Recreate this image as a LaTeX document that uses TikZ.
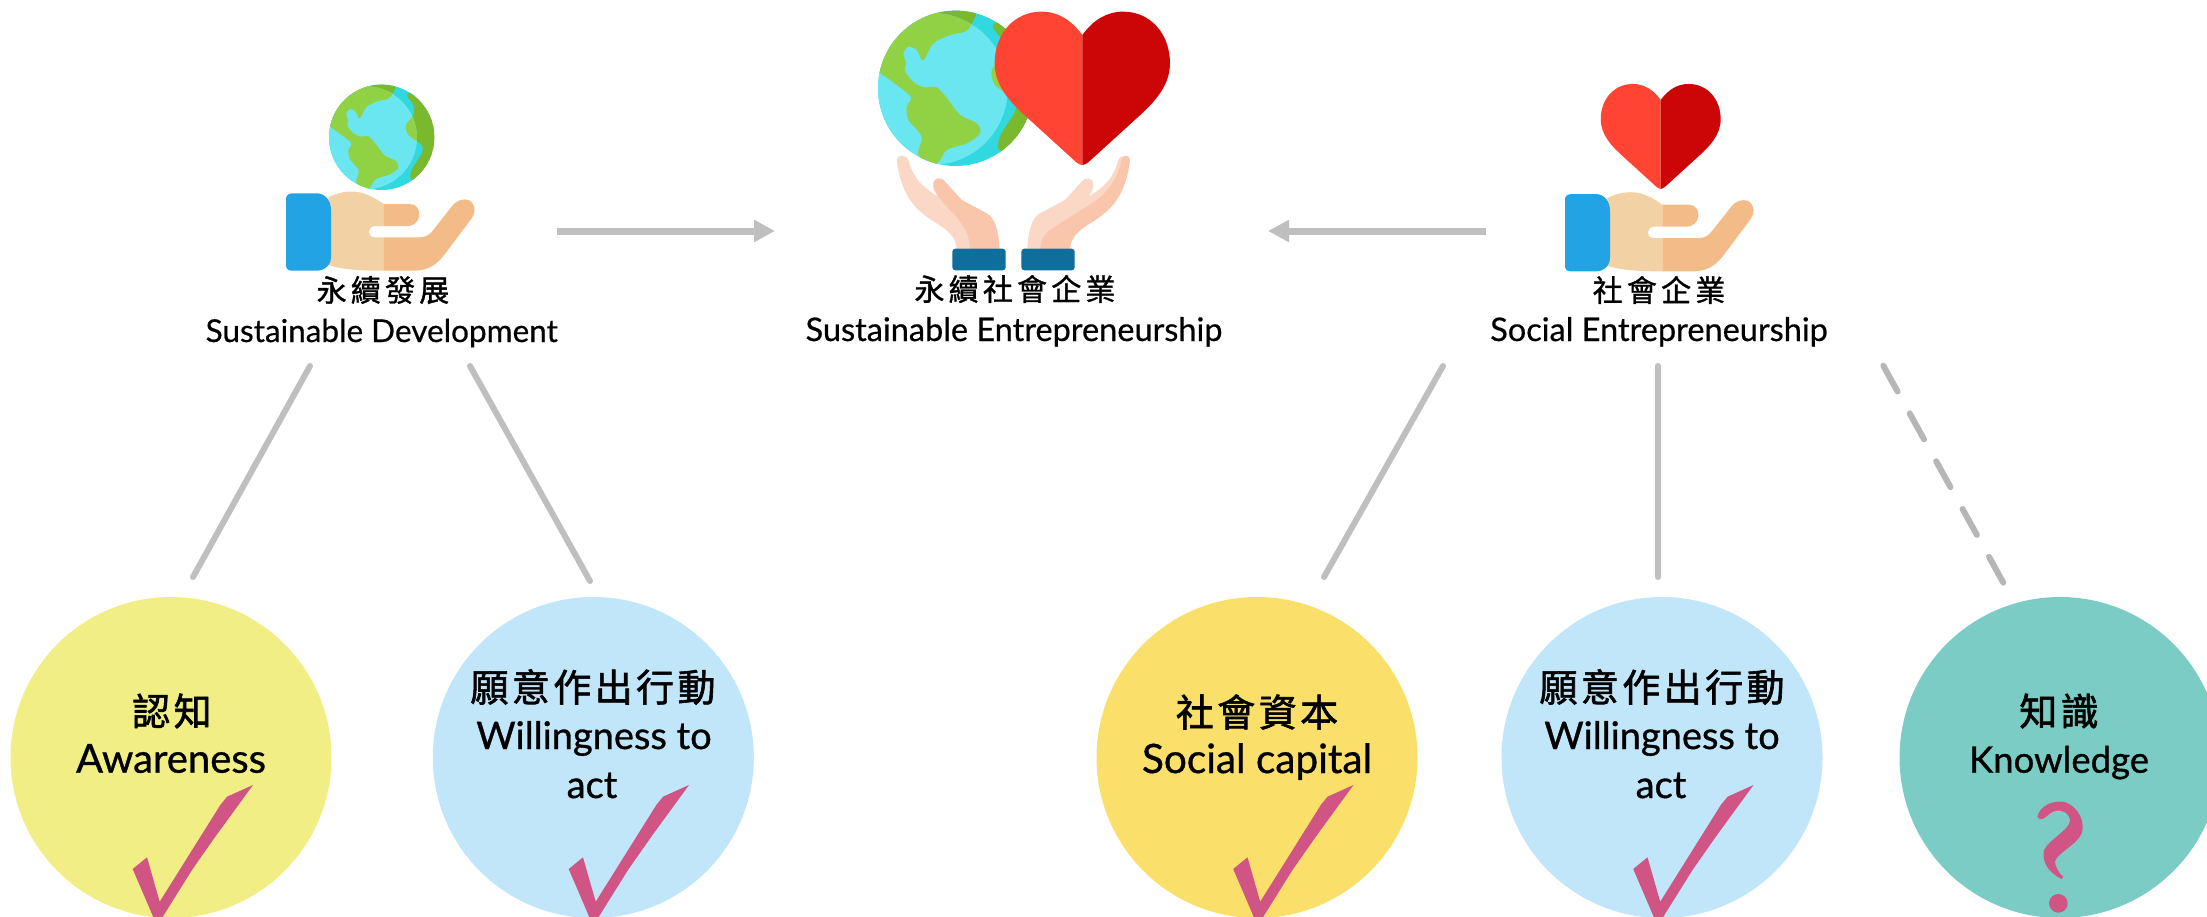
\documentclass[tikz,border=0pt]{standalone}
\usepackage{fontspec}
\usetikzlibrary{arrows.meta}
\setmainfont{Lato}
\newfontfamily\lathead[FakeBold=0.5]{Lato}
\newfontfamily\latcirc[FakeBold=0.8]{Lato}
\newfontfamily\cjkhead[LetterSpace=14,FakeBold=1.2]{Noto Sans CJK TC}
\newfontfamily\cjkcirc[LetterSpace=9,FakeBold=1.6]{Noto Sans CJK TC}
\definecolor{gline}{HTML}{BFBFBF}
\definecolor{gdash}{HTML}{B6B6B8}
\definecolor{pinkmark}{HTML}{D05584}
\definecolor{cyanL}{HTML}{69E6EF}
\definecolor{cyanD}{HTML}{32D8E0}
\definecolor{greenL}{HTML}{91D144}
\definecolor{greenD}{HTML}{7AB82E}
\definecolor{heartL}{HTML}{FF4433}
\definecolor{heartD}{HTML}{CC0606}
\definecolor{handL}{HTML}{F2D1A5}
\definecolor{handD}{HTML}{F2BB88}
\definecolor{cuffB}{HTML}{21A3E4}
\definecolor{palmL}{HTML}{FBD7C5}
\definecolor{palmD}{HTML}{F9C6AB}
\definecolor{cuffD}{HTML}{0F6E9C}
\definecolor{cYellow}{HTML}{F1EE85}
\definecolor{cBlue}{HTML}{C1E5F9}
\definecolor{cGold}{HTML}{FBDF6B}
\definecolor{cTeal}{HTML}{7BCCC5}
\tikzset{
  bigcircle/.style={circle,minimum size=321pt,inner sep=0pt,outer sep=0pt,draw=none},
  headcjk/.style={inner sep=0pt,text=black,font=\cjkhead\fontsize{30}{34}\selectfont},
  headlat/.style={inner sep=0pt,anchor=base,text=black,font=\lathead\fontsize{#1}{36}\selectfont},
  circjk/.style={inner sep=0pt,text=black,font=\cjkcirc\fontsize{38}{42}\selectfont},
  cirlat/.style={inner sep=0pt,anchor=base,text=black,font=\latcirc\fontsize{#1}{44}\selectfont},
  conn/.style={draw=gline,line width=6pt,line cap=round},
  arrowconn/.style={draw=gline,line width=7pt,-{Triangle[length=21pt,width=21pt]}},
}
% globe, in coordinates where its centre is (497,265) and radius 233
\newcommand\westland{plot[smooth cycle,tension=.5] coordinates {(262,205) (250,100) (400,10) (550,30) (545,70) (525,95) (480,105) (430,130) (405,175) (395,180) (380,150) (355,140) (340,160) (348,190) (345,215) (375,250) (405,262) (440,262) (475,300) (510,345) (560,370) (570,400) (530,430) (470,450) (440,490) (385,465) (395,410) (355,360) (350,320) (362,290) (300,240)}}
\newcommand\eastland{plot[smooth cycle,tension=.5] coordinates {(615,70) (637,122) (637,166) (605,210) (615,255) (674,299) (674,336) (630,410) (637,454) (800,454) (800,70)}}
\newcommand\globeicon[3]{%
  \begin{scope}[shift={(#1,#2)},scale=#3,shift={(-497,-265)}]
    \begin{scope}
      \clip (497,265) circle (233);
      \fill[cyanD] (497,265) circle (233);
      \fill[greenD] \eastland;
      \fill[greenD] \westland;
      \clip (425,267) circle (228);
      \fill[cyanL] (260,0) rectangle (760,520);
      \fill[greenL] \eastland;
      \fill[greenL] \westland;
    \end{scope}
  \end{scope}}
% heart, in coordinates where its axis is x=877
\newcommand\hearthalf[1]{(877,105) .. controls (#1*33+877,60) and (#1*73+877,35) .. (#1*123+877,35) .. controls (#1*203+877,35) and (#1*263+877,100) .. (#1*263+877,190) .. controls (#1*263+877,260) and (#1*213+877,310) .. (#1*163+877,355) -- (#1*18+877,487) .. controls (#1*8+877,495) and (877,495) .. (877,495) -- cycle}
\newcommand\hearticon[3]{%
  \begin{scope}[shift={(#1,#2)},scale=#3,shift={(-877,-265)}]
    \fill[heartL] \hearthalf{-1};
    \fill[heartD] \hearthalf{1};
  \end{scope}}
% open hand holding something
\newcommand\handicon[2]{%
  \begin{scope}[shift={(#1,#2)},scale=1/3]
    \fill[handL] (235,442) .. controls (300,410) and (350,425) .. (400,462) -- (400,528) -- (375,528) .. controls (350,530) and (350,562) .. (375,562) -- (400,562) -- (400,662) .. controls (340,662) and (280,660) .. (235,645) -- cycle;
    \fill[handD] (400,462) -- (480,462) .. controls (500,462) and (510,480) .. (508,497) .. controls (506,515) and (490,528) .. (475,528) -- (400,528) -- cycle;
    \fill[handD] (400,562) -- (510,562) .. controls (530,562) and (540,552) .. (550,540) -- (605,470) .. controls (620,450) and (640,445) .. (655,450) .. controls (675,460) and (680,480) .. (665,505) -- (590,605) .. controls (565,640) and (540,662) .. (490,662) -- (400,662) -- cycle;
    \fill[cuffB] (128,430) -- (200,430) .. controls (228,430) and (243,455) .. (243,480) -- (243,620) .. controls (243,645) and (225,662) .. (200,662) -- (125,662) .. controls (113,662) and (108,655) .. (108,645) -- (108,447) .. controls (108,437) and (115,430) .. (128,430) -- cycle;
  \end{scope}}
% tick with its tip at the given point
\newcommand\tickmark[2]{%
  \begin{scope}[shift={(#1,#2)}]
    \fill[pinkmark] (0,0) -- (-26,11.7) -- (-32.7,20) -- (-93.3,116.7) -- (-106,72.3) -- (-120.3,84) -- (-112.7,101.7) -- (-99.3,133) -- (-91,133) -- (-61,85) -- (-37.7,51.7) -- cycle;
  \end{scope}}
\begin{document}
\begin{tikzpicture}[x=1pt,y=-1pt]
\useasboundingbox (0,0) rectangle (2207,916);
\clip (0,0) rectangle (2207,916);
\fill[white] (0,0) rectangle (2207,916);

% icons
\globeicon{381.7}{137.3}{.2262}
\handicon{250}{50}
\globeicon{955.7}{88.3}{.3333}
\hearticon{1082.3}{88.3}{.3333}
\begin{scope}[shift={(790,0)},scale=1/3]
  \fill[palmL] (320,480) .. controls (322,462) and (350,462) .. (356,482) .. controls (365,520) and (385,555) .. (445,590) .. controls (435,575) and (428,565) .. (430,552) .. controls (432,532) and (455,530) .. (465,545) -- (515,600) -- (590,640) .. controls (615,655) and (625,690) .. (628,746) -- (500,746) .. controls (498,715) and (480,695) .. (440,670) .. controls (375,630) and (335,590) .. (320,480) -- cycle;
  \fill[palmD] (430,552) .. controls (432,532) and (455,530) .. (465,545) -- (515,600) -- (590,640) .. controls (615,655) and (625,690) .. (628,746) -- (540,746) .. controls (540,690) and (500,650) .. (465,615) .. controls (445,590) and (430,575) .. (430,552) -- cycle;
  \fill[palmL] (1020,480) .. controls (1018,462) and (990,462) .. (984,482) .. controls (975,520) and (955,555) .. (895,590) .. controls (905,575) and (912,565) .. (910,552) .. controls (908,532) and (885,530) .. (875,545) -- (825,600) -- (750,640) .. controls (725,655) and (715,690) .. (712,746) -- (840,746) .. controls (842,715) and (860,695) .. (900,670) .. controls (965,630) and (1005,590) .. (1020,480) -- cycle;
  \fill[palmD] (1020,480) .. controls (1018,465) and (1003,462) .. (995,478) .. controls (985,530) and (955,580) .. (905,610) -- (780,690) .. controls (760,705) and (752,725) .. (750,746) -- (840,746) .. controls (842,715) and (860,695) .. (900,670) .. controls (965,630) and (1005,590) .. (1020,480) -- cycle;
  \fill[cuffD,rounded corners=3pt] (487,746) rectangle (647,811);
  \fill[cuffD,rounded corners=3pt] (694,746) rectangle (854,811);
\end{scope}
\hearticon{1660.7}{136.4}{.228}
\handicon{1529}{50.7}

% head labels
\node[headcjk] (sdzh) at (383,290) {永續發展};
\node[headlat=31.5] (sden) at (381.7,342) {Sustainable Development};
\node[headcjk] (sezh) at (1015,289) {永續社會企業};
\node[headlat=32.5] (seen) at (1014,341) {Sustainable Entrepreneurship};
\node[headcjk] (sozh) at (1659,290) {社會企業};
\node[headlat=32.5] (soen) at (1659,341) {Social Entrepreneurship};

% circles
\node[bigcircle,fill=cYellow] (aware) at (171,757.5) {};
\node[bigcircle,fill=cBlue] (will1) at (593.3,757.5) {};
\node[bigcircle,fill=cGold] (capital) at (1257,757.5) {};
\node[bigcircle,fill=cBlue] (will2) at (1662,757.5) {};
\node[bigcircle,fill=cTeal] (know) at (2060,757.5) {};

% circle labels
\node[circjk] (awarezh) at (172,711) {認知};
\node[cirlat=40] (awareen) at (171,772.7) {Awareness};
\node[circjk] (will1zh) at (593,687) {願意作出行動};
\node[cirlat=38] (will1en) at (594,749) {Willingness to};
\node[cirlat=38] (will1act) at (592,798) {act};
\node[circjk] (capzh) at (1257,712) {社會資本};
\node[cirlat=40.5] (capen) at (1257,773) {Social capital};
\node[circjk] (will2zh) at (1662,687) {願意作出行動};
\node[cirlat=38] (will2en) at (1662,749) {Willingness to};
\node[cirlat=38] (will2act) at (1661,798) {act};
\node[circjk] (knowzh) at (2059,711) {知識};
\node[cirlat=36.5] (knowen) at (2059,772.7) {Knowledge};

% marks
\tickmark{253}{785}
\tickmark{689}{785}
\tickmark{1353.5}{785}
\tickmark{1753.5}{785}
\begin{scope}[shift={(1890,590)},scale=1/3]
  \fill[pinkmark] (442,680) .. controls (450,645) and (490,632) .. (520,635) .. controls (570,650) and (585,700) .. (575,730) .. controls (560,765) and (500,790) .. (495,815) .. controls (495,830) and (510,855) .. (520,860) -- (515,867) .. controls (470,845) and (455,810) .. (462,780) .. controls (480,745) and (540,720) .. (540,690) .. controls (535,660) and (500,655) .. (480,670) .. controls (465,685) and (450,695) .. (442,680) -- cycle;
  \fill[pinkmark] (505,940) circle (28);
\end{scope}

% connector ends
\coordinate (sdR) at (557,231);
\coordinate (seL) at (775,231);
\coordinate (soL) at (1486,231);
\coordinate (seR) at (1268,231);
\coordinate (sd1) at (310,366);
\coordinate (aw1) at (193,577);
\coordinate (sd2) at (470,366);
\coordinate (wi1) at (590,581);
\coordinate (so1) at (1443,366);
\coordinate (ca1) at (1324,577);
\coordinate (so2) at (1658,366);
\coordinate (wi2) at (1658,577);
\coordinate (so3) at (1883.3,365.7);
\coordinate (kn1) at (2003.3,582.7);

\draw[arrowconn] (sdR) -- (seL);
\draw[arrowconn] (soL) -- (seR);
\draw[conn] (sd1) -- (aw1);
\draw[conn] (sd2) -- (wi1);
\draw[conn] (so1) -- (ca1);
\draw[conn] (so2) -- (wi2);
\draw[conn,draw=gdash,dash pattern=on 29.5pt off 25.1pt] (so3) -- (kn1);
\end{tikzpicture}
\end{document}
